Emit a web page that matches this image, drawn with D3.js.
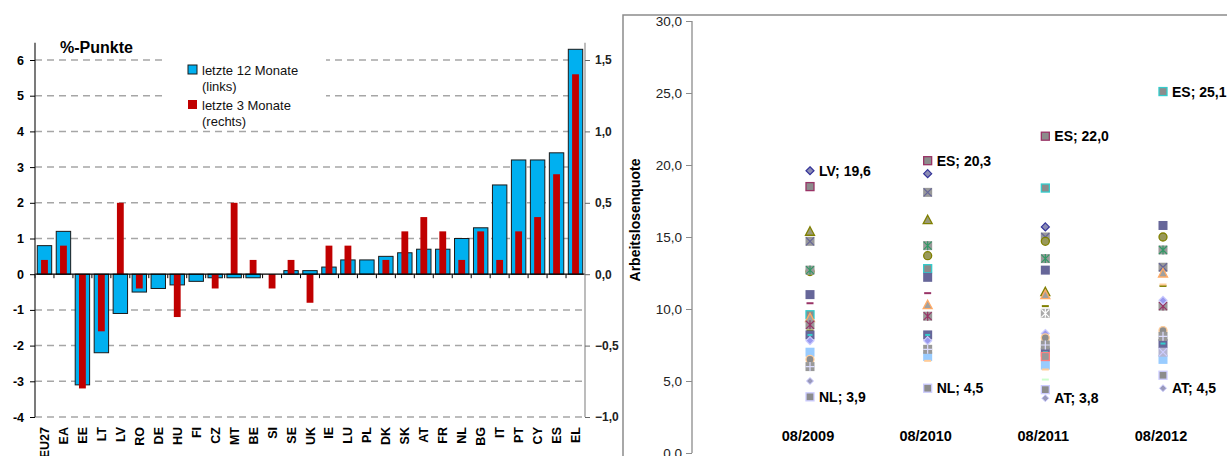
<!DOCTYPE html>
<html>
<head>
<meta charset="utf-8">
<script src="https://cdn.jsdelivr.net/npm/d3@7"></script>
<style>
  body { margin: 0; background: #fff; }
  svg { display: block; font-family: Arial, "Liberation Sans", sans-serif; }
</style>
</head>
<body>
<div id="chart"></div>
<script>
// size of the picture
var width = 1227;
var height = 456;

// left chart: change of the rate, %-points
var countries = ["EU27", "EA", "EE", "LT", "LV", "RO", "DE", "HU", "FI", "CZ", "MT", "BE", "SI", "SE", "UK",
                 "IE", "LU", "PL", "DK", "SK", "AT", "FR", "NL", "BG", "IT", "PT", "CY", "ES", "EL"];
var change12 = [0.8, 1.2, -3.1, -2.2, -1.1, -0.5, -0.4, -0.3, -0.2, -0.1, -0.1, -0.1, 0, 0.1, 0.1,
                0.2, 0.4, 0.4, 0.5, 0.6, 0.7, 0.7, 1.0, 1.3, 2.5, 3.2, 3.2, 3.4, 6.3];
var change3 = [0.1, 0.2, -0.8, -0.4, 0.5, -0.1, 0, -0.3, 0, -0.1, 0.5, 0.1, -0.1, 0.1, -0.2,
               0.2, 0.2, 0, 0.1, 0.3, 0.4, 0.3, 0.1, 0.3, 0.1, 0.3, 0.4, 0.7, 1.4];
var leftTicks = [-4, -3, -2, -1, 0, 1, 2, 3, 4, 5, 6];
var rightTicks = [-1, -0.5, 0, 0.5, 1, 1.5];
var legendLabels = [["letzte 12 Monate", "(links)"], ["letzte 3 Monate", "(rechts)"]];

// right chart: unemployment rate per month, one row per marker series
var periods = ["08/2009", "08/2010", "08/2011", "08/2012"];
var rateTicks = [0, 5, 10, 15, 20, 25, 30];
var rates = [
  [19.6, 19.4, 15.7, null],
  [18.5, 20.3, 22.0, null],
  [9.6, 12.8, 18.4, 25.1],
  [15.4, 16.2, 11.2, null],
  [14.7, 18.1, 15.0, 12.9],
  [12.6, 13.7, 14.7, 15.0],
  [12.7, 14.4, 13.5, 14.1],
  [11.0, 12.2, 12.7, 15.8],
  [10.4, 11.1, null, null],
  [9.4, 10.3, 11.0, 12.5],
  [8.9, 9.5, null, 10.2],
  [8.5, null, 10.2, 11.6],
  [8.2, 8.2, 7.0, 7.6],
  [7.8, 7.8, 8.3, 10.6],
  [7.0, 6.7, 6.1, 6.5],
  [6.5, null, 8.0, 8.5],
  [6.0, 7.2, 7.5, 8.1],
  [5.0, null, 3.8, 4.5],
  [3.9, 4.5, 4.4, 5.4],
  [null, 6.4, 5.8, 11.7],
  [null, null, 5.1, null],
  [null, null, 9.7, null],
  [null, null, null, 7.0],
  [null, null, 6.7, null]
];
var topLabels = ["LV; 19,6", "ES; 20,3", "ES; 22,0", "ES; 25,1"];
var topValues = [19.6, 20.3, 22.0, 25.1];
var bottomLabels = ["NL; 3,9", "NL; 4,5", "AT; 3,8", "AT; 4,5"];
var bottomValues = [3.9, 4.5, 3.8, 4.5];

// marker look for each series of rates (same order)
var markers = [
  {t: "diamond", f: "#8c8cb4", s: "#333399"},
  {t: "square", f: "#8c8c8c", s: "#993366"},
  {t: "square", f: "#8c8c8c", s: "#33cccc"},
  {t: "triangle", f: "#9a9a7a", s: "#808000"},
  {t: "xbox", f: "#999999", s: "#666699"},
  {t: "circle", f: "#99995a", s: "#808000"},
  {t: "starbox", f: "#999999", s: "#339966"},
  {t: "fill", f: "#666699", s: "#666699"},
  {t: "dash", f: "none", s: "#993366"},
  {t: "triangle", f: "#a0a0a0", s: "#ffaa66"},
  {t: "starbox", f: "#999999", s: "#993366"},
  {t: "dash", f: "none", s: "#808000"},
  {t: "fill", f: "#666699", s: "#33cccc"},
  {t: "diamond", f: "#9999ee", s: "#ccccff"},
  {t: "fill", f: "#99ccff", s: "#99ccff"},
  {t: "circle", f: "#8c8c8c", s: "#ffcc99"},
  {t: "plusbox", f: "#999999", s: "#ddddff"},
  {t: "small", f: "#9999bb", s: "#ccccff"},
  {t: "square", f: "#8c8c8c", s: "#ccccff"},
  {t: "dash", f: "none", s: "#ffcc99"},
  {t: "dash", f: "none", s: "#ccffcc"},
  {t: "starbox", f: "#aaaaaa", s: "#ffffff"},
  {t: "xbox", f: "#b4b4d2", s: "#ccccff"},
  {t: "square", f: "#999999", s: "#ff8080"}
];

var de = d3.formatLocale({decimal: ",", thousands: ".", grouping: [3], currency: ["", " €"]});
var fmt1 = de.format(".1f");

var svg = d3.select("#chart").append("svg")
            .attr("width", width)
            .attr("height", height);

// ---------------- left chart ----------------
var x = d3.scaleBand().domain(countries).range([35, 585]).paddingInner(0).paddingOuter(0);
var y = d3.scaleLinear().domain([-4, 6]).range([417, 60]);
var y2 = d3.scaleLinear().domain([-1, 1.5]).range([417, 60]);

var left = svg.append("g");

// dashed grid
left.selectAll("line.grid")
    .data(leftTicks.filter(function(d) { return d !== 0; }))
    .enter().append("line")
    .attr("class", "grid")
    .attr("x1", 35).attr("x2", 585)
    .attr("y1", function(d) { return y(d); })
    .attr("y2", function(d) { return y(d); })
    .attr("stroke", "#a6a6a6")
    .attr("stroke-width", 1.5)
    .attr("stroke-dasharray", "7,5");

// blue bars, 12 months
left.selectAll("rect.b12")
    .data(countries)
    .enter().append("rect")
    .attr("class", "b12")
    .attr("x", function(d) { return x(d) + x.bandwidth() * 0.12; })
    .attr("width", x.bandwidth() * 0.76)
    .attr("y", function(d, i) { return y(Math.max(0, change12[i])); })
    .attr("height", function(d, i) { return Math.abs(y(change12[i]) - y(0)); })
    .attr("fill", "#00b0f0")
    .attr("stroke", function(d, i) { return change12[i] === 0 ? "none" : "#1a1a1a"; })
    .attr("stroke-width", 1);

// red bars, 3 months
left.selectAll("rect.b3")
    .data(countries)
    .enter().append("rect")
    .attr("class", "b3")
    .attr("x", function(d) { return x(d) + x.bandwidth() * 0.32; })
    .attr("width", x.bandwidth() * 0.36)
    .attr("y", function(d, i) { return y2(Math.max(0, change3[i])); })
    .attr("height", function(d, i) { return Math.abs(y2(change3[i]) - y2(0)); })
    .attr("fill", "#c00000");

// zero line with category ticks
left.append("line")
    .attr("x1", 35).attr("x2", 585)
    .attr("y1", y(0)).attr("y2", y(0))
    .attr("stroke", "#000").attr("stroke-width", 1.2);
left.selectAll("line.ctick")
    .data(countries)
    .enter().append("line")
    .attr("class", "ctick")
    .attr("x1", function(d) { return x(d); })
    .attr("x2", function(d) { return x(d); })
    .attr("y1", y(0)).attr("y2", y(0) + 4)
    .attr("stroke", "#000");

// left axis
var yAxis = d3.axisLeft(y).tickValues(leftTicks).tickSize(5).tickPadding(6)
              .tickFormat(function(d) { return String(d); });
var ga = left.append("g").attr("transform", "translate(35,0)").call(yAxis);
ga.select(".domain").attr("d", "M0," + y(6.48) + "V" + y(-4)).attr("stroke", "#333").attr("stroke-width", 1.3);
ga.selectAll("text").attr("font-size", 12.5).attr("font-weight", "bold").attr("fill", "#000")
  .attr("font-family", "Arial, 'Liberation Sans', sans-serif");

// right axis
var y2Axis = d3.axisRight(y2).tickValues(rightTicks).tickSize(5).tickPadding(5)
               .tickFormat(function(d) { return fmt1(d); });
var gb = left.append("g").attr("transform", "translate(585,0)").call(y2Axis);
gb.select(".domain").attr("d", "M0," + y(6.48) + "V" + y(-4)).attr("stroke", "#999").attr("stroke-width", 1.3);
gb.selectAll("line").attr("stroke", "#666");
gb.selectAll("text").attr("font-size", 12).attr("font-weight", "bold").attr("fill", "#222")
  .attr("font-family", "Arial, 'Liberation Sans', sans-serif");

// category labels
left.selectAll("text.cat")
    .data(countries)
    .enter().append("text")
    .attr("class", "cat")
    .attr("transform", function(d) { return "translate(" + (x(d) + x.bandwidth() / 2 + 4.5) + ",427) rotate(-90)"; })
    .attr("text-anchor", "end")
    .attr("font-size", 12.5)
    .attr("font-weight", "bold")
    .text(function(d) { return d; });

// title
left.append("text")
    .attr("x", 60).attr("y", 53)
    .attr("font-size", 16).attr("font-weight", "bold")
    .text("%-Punkte");

// legend
left.append("rect")
    .attr("x", 166).attr("y", 52).attr("width", 160).attr("height", 74)
    .attr("fill", "#fff");
var legendColors = ["#00b0f0", "#c00000"];
legendLabels.forEach(function(lines, i) {
  var ly = 70 + i * 35;
  left.append("rect")
      .attr("x", 188).attr("y", ly - 5).attr("width", 9).attr("height", 9)
      .attr("fill", legendColors[i])
      .attr("stroke", i === 0 ? "#1a1a1a" : "none");
  lines.forEach(function(t, j) {
    left.append("text")
        .attr("x", 202).attr("y", ly + 5 + j * 16)
        .attr("font-size", 13)
        .attr("fill", "#111")
        .text(t);
  });
});

// ---------------- right chart ----------------
var right = svg.append("g");
var px = d3.scalePoint().domain(periods).range([810, 1163]);
var py = d3.scaleLinear().domain([0, 30]).range([453, 21]);

right.append("path")
     .attr("d", "M623,456V15H1227")
     .attr("fill", "none")
     .attr("stroke", "#8c8c8c")
     .attr("stroke-width", 1.5);

var pAxis = d3.axisLeft(py).tickValues(rateTicks).tickSize(6).tickPadding(4)
              .tickFormat(function(d) { return fmt1(d); });
var gp = right.append("g").attr("transform", "translate(692,0)").call(pAxis);
gp.select(".domain").attr("d", "M0," + py(30) + "V" + py(0)).attr("stroke", "#8c8c8c").attr("stroke-width", 1.3);
gp.selectAll("line").attr("stroke", "#8c8c8c");
gp.selectAll("text").attr("font-size", 13.5).attr("fill", "#222")
  .attr("font-family", "Arial, 'Liberation Sans', sans-serif");

right.append("text")
     .attr("transform", "translate(640,220) rotate(-90)")
     .attr("text-anchor", "middle")
     .attr("font-size", 14).attr("font-weight", "bold")
     .text("Arbeitslosenquote");

right.selectAll("text.period")
     .data(periods)
     .enter().append("text")
     .attr("class", "period")
     .attr("x", function(d) { return px(d) - 2; })
     .attr("y", 441)
     .attr("text-anchor", "middle")
     .attr("font-size", 14.5).attr("font-weight", "bold")
     .text(function(d) { return d; });

function drawMarker(g, m) {
  var s = 4.5;
  if (m.t === "diamond") {
    g.append("path").attr("d", "M0,-4L4,0L0,4L-4,0Z").attr("fill", m.f).attr("stroke", m.s).attr("stroke-width", 1.2);
  } else if (m.t === "small") {
    g.append("path").attr("d", "M0,-3.5L3.5,0L0,3.5L-3.5,0Z").attr("fill", m.f).attr("stroke", m.s).attr("stroke-width", 1);
  } else if (m.t === "square") {
    g.append("rect").attr("x", -4).attr("y", -4).attr("width", 8).attr("height", 8)
     .attr("fill", m.f).attr("stroke", m.s).attr("stroke-width", 1.3);
  } else if (m.t === "fill") {
    g.append("rect").attr("x", -s).attr("y", -s).attr("width", 2 * s).attr("height", 2 * s).attr("fill", m.f);
    if (m.s !== m.f) {
      g.append("line").attr("x1", -2.5).attr("x2", 2.5).attr("y1", 0).attr("y2", 0).attr("stroke", m.s).attr("stroke-width", 2);
    }
  } else if (m.t === "triangle") {
    g.append("path").attr("d", "M0,-4.5L4.5,4L-4.5,4Z").attr("fill", m.f).attr("stroke", m.s).attr("stroke-width", 1.3);
  } else if (m.t === "circle") {
    g.append("circle").attr("r", 4).attr("fill", m.f).attr("stroke", m.s).attr("stroke-width", 1.3);
  } else if (m.t === "dash") {
    g.append("line").attr("x1", -3.5).attr("x2", 3.5).attr("y1", 0).attr("y2", 0).attr("stroke", m.s).attr("stroke-width", 2);
  } else {
    g.append("rect").attr("x", -s).attr("y", -s).attr("width", 2 * s).attr("height", 2 * s).attr("fill", m.f);
    var p = "";
    if (m.t === "xbox" || m.t === "starbox") p += "M-4,-4L4,4M4,-4L-4,4";
    if (m.t === "starbox" || m.t === "plusbox") p += "M0,-4.5V4.5";
    if (m.t === "plusbox") p += "M-4.5,0H4.5";
    g.append("path").attr("d", p).attr("stroke", m.s).attr("stroke-width", 1.2).attr("fill", "none");
  }
}

rates.forEach(function(row, i) {
  row.forEach(function(v, j) {
    if (v === null) return;
    var g = right.append("g").attr("transform", "translate(" + px(periods[j]) + "," + py(v) + ")");
    drawMarker(g, markers[i]);
  });
});

// data labels
function addLabels(texts, values) {
  right.selectAll(null)
       .data(texts)
       .enter().append("text")
       .attr("x", function(d, i) { return px(periods[i]) + 9; })
       .attr("y", function(d, i) { return py(values[i]) + 5; })
       .attr("font-size", 14).attr("font-weight", "bold")
       .text(function(d) { return d; });
}
addLabels(topLabels, topValues);
addLabels(bottomLabels, bottomValues);
</script>
</body>
</html>
